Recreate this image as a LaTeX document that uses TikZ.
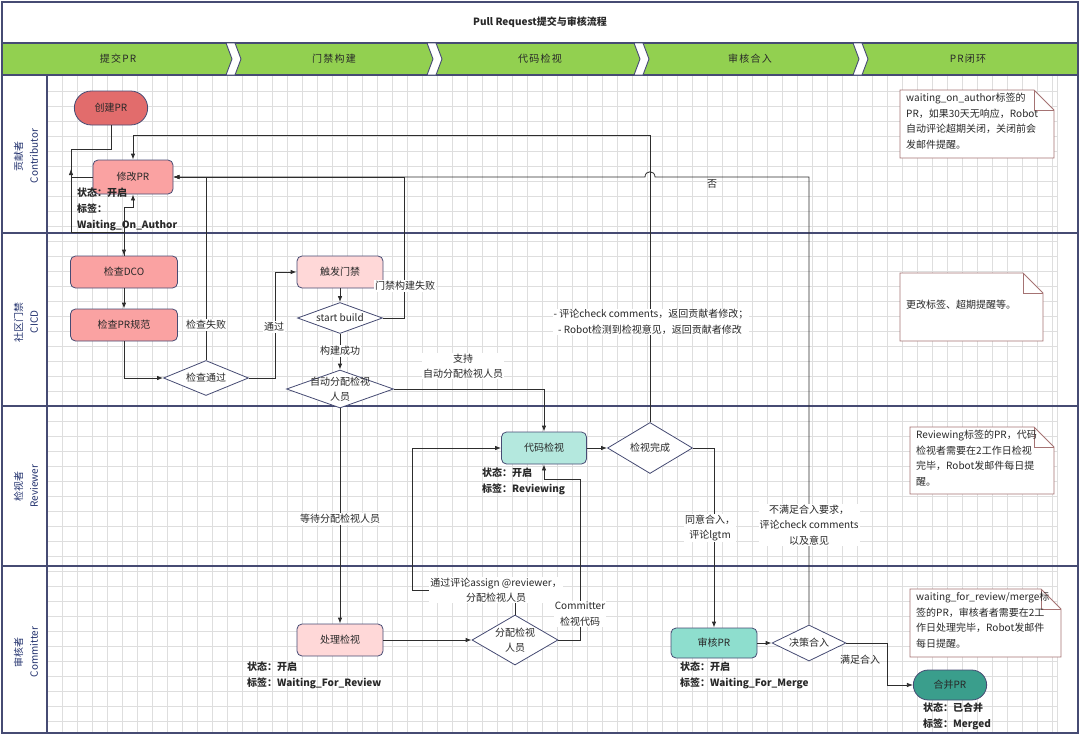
\documentclass[tikz,border=0pt]{standalone}
\usepackage{fontspec}
\setmainfont{Noto Sans CJK SC}
\usetikzlibrary{shapes.geometric,shapes.misc,arrows.meta,calc}
\definecolor{navy}{RGB}{70,75,115}
\definecolor{lineC}{RGB}{45,45,45}
\definecolor{gridc}{RGB}{222,222,222}
\definecolor{hdr}{RGB}{146,208,80}
\definecolor{laneT}{RGB}{35,50,110}
\definecolor{cCreate}{RGB}{226,108,108}
\definecolor{cPink}{RGB}{250,162,162}
\definecolor{cLight}{RGB}{255,216,216}
\definecolor{cTealL}{RGB}{180,232,222}
\definecolor{cTeal}{RGB}{142,222,206}
\definecolor{cTealD}{RGB}{58,158,140}
\definecolor{noteB}{RGB}{165,115,115}
\definecolor{txt}{RGB}{40,40,40}
\newcommand\mynote[4]{%
  \filldraw[fill=white, draw=noteB, line width=0.8pt] (#1,#2) -- (#3-20,#2) -- (#3,#2+20) -- (#3,#4) -- (#1,#4) -- cycle;
  \draw[draw=noteB, line width=0.8pt] (#3-20,#2) -- (#3-20,#2+20) -- (#3,#2+20);}
\begin{document}
\begin{tikzpicture}[x=1pt,y=-1pt,
  font=\fontsize{10}{15.5}\selectfont,
  every node/.style={text=txt},
  lanel/.style={draw=navy, line width=1.1pt},
  term/.style={rounded rectangle, draw=navy, line width=0.8pt, minimum width=80pt, minimum height=34pt},
  procbox/.style={rectangle, rounded corners=5pt, draw=navy, line width=0.8pt},
  dia/.style={diamond, draw=navy, line width=0.8pt, fill=white, inner sep=0pt},
  conn/.style={draw=lineC, line width=0.8pt},
  arr/.style={conn, -{Latex[length=6pt,width=4.5pt]}},
  lbl/.style={fill=white, inner sep=1pt, align=center},
  stat/.style={font=\bfseries\fontsize{10}{16}\selectfont, align=left, anchor=north west, inner sep=0pt},
  notetext/.style={align=left, anchor=north west, inner sep=0pt},
  lanetext/.style={rotate=90, align=center, text=laneT},
  phase/.style={font=\fontsize{10}{12}\selectfont\addfontfeature{LetterSpace=12}}
]
\useasboundingbox (0,0) rectangle (1080,736);
% grid
\foreach \x in {62,77,...,1052} \draw[gridc, line width=0.5pt] (\x,75) -- (\x,733);
\foreach \y in {91,106,...,721} \draw[gridc, line width=0.5pt] (47,\y) -- (1057,\y);
\draw[gridc, line width=0.5pt] (1057,75) -- (1057,733);
% header
\fill[hdr] (2,43) rectangle (1078,75);
\draw[lanel] (2,2) rectangle (1078,733);
\draw[lanel] (2,43) -- (1078,43);
\draw[lanel] (2,75) -- (1078,75);
\foreach \c in {226,427,634,853}
  \filldraw[fill=white, draw=navy, line width=0.9pt] (\c,43) -- (\c+9,43) -- (\c+15,59) -- (\c+9,75) -- (\c,75) -- (\c+6,59) -- cycle;
\node[font=\bfseries\fontsize{10}{12}\selectfont] (title) at (540,22) {Pull Request提交与审核流程};
\node[phase] (ph1) at (118,59) {提交PR};
\node[phase] (ph2) at (334,59) {门禁构建};
\node[phase] (ph3) at (540,59) {代码检视};
\node[phase] (ph4) at (750,59) {审核合入};
\node[phase] (ph5) at (968,59) {PR闭环};
% lanes
\draw[lanel] (2,233) -- (1078,233);
\draw[lanel] (2,406) -- (1078,406);
\draw[lanel] (2,566) -- (1078,566);
\draw[lanel] (47,75) -- (47,733);
\node[lanetext] (l1) at (26,156) {贡献者\\Contributor};
\node[lanetext] (l2) at (26,322) {社区门禁\\CICD};
\node[lanetext] (l3) at (26,486) {检视者\\Reviewer};
\node[lanetext] (l4) at (26,652) {审核者\\Committer};

% nodes
\node[term, fill=cCreate] (create) at (111,108) {创建PR};
\node[procbox, fill=cPink, minimum width=80pt, minimum height=34pt] (modify) at (133,177) {修改PR};
\node[procbox, fill=cPink, minimum width=107pt, minimum height=32pt] (dco) at (124,272) {检查DCO};
\node[procbox, fill=cPink, minimum width=107pt, minimum height=32pt] (spec) at (124,325) {检查PR规范};
\node[dia, minimum width=85pt, minimum height=35pt] (pass) at (206,378) {};
\node (pass-t) at (pass) {检查通过};
\node[procbox, fill=cLight, minimum width=86pt, minimum height=32pt] (trigger) at (340,272) {触发门禁};
\node[dia, minimum width=85pt, minimum height=31pt] (build) at (340,318) {};
\node (build-t) at (build) {start build};
\node[dia, minimum width=107pt, minimum height=38pt] (auto) at (340,389) {};
\node[align=center] (auto-t) at (auto) {自动分配检视\\人员};
\node[procbox, fill=cTealL, minimum width=85pt, minimum height=32pt] (review) at (544,448) {代码检视};
\node[dia, minimum width=85pt, minimum height=51pt] (done) at (650,448) {};
\node (done-t) at (done) {检视完成};
\node[procbox, fill=cLight, minimum width=86pt, minimum height=32pt] (handle) at (340,640) {处理检视};
\node[dia, minimum width=86pt, minimum height=50pt] (assign) at (515,640) {};
\node[align=center] (assign-t) at (assign) {分配检视\\人员};
\node[procbox, fill=cTeal, minimum width=86pt, minimum height=30pt] (audit) at (714,643) {审核PR};
\node[dia, minimum width=74pt, minimum height=36pt] (decide) at (809,643) {};
\node (decide-t) at (decide) {决策合入};
\node[term, fill=cTealD, minimum height=30pt] (merge) at (950,685) {合并PR};

% status texts
\node[stat] (s1) at (77,188) {状态：开启\\标签：\\Waiting\_On\_Author};
\node[stat] (s2) at (482,468) {状态：开启\\标签：Reviewing};
\node[stat] (s3) at (247,662) {状态：开启\\标签：Waiting\_For\_Review};
\node[stat] (s4) at (680,662) {状态：开启\\标签：Waiting\_For\_Merge};
\node[stat] (s5) at (923,703) {状态：已合并\\标签：Merged};

% notes
\mynote{900}{90}{1054}{158}
\node[notetext] (n1) at (906,93) {waiting\_on\_author标签的\\PR，如果30天无响应，Robot\\自动评论超期关闭，关闭前会\\发邮件提醒。};
\mynote{900}{273}{1043}{341}
\node[anchor=west, inner sep=0pt] (n2) at (906,305) {更改标签、超期提醒等。};
\mynote{910}{427}{1054}{494}
\node[notetext] (n3) at (916,430) {Reviewing标签的PR，代码\\检视者需要在2工作日检视\\完毕，Robot发邮件每日提\\醒。};
\mynote{910}{589}{1061}{657}
\node[notetext] (n4) at (916,592) {waiting\_for\_review/merge标\\签的PR，审核者者需要在2工\\作日处理完毕，Robot发邮件\\每日提醒。};

% connectors
\draw[arr] (create.south) -- (111,149) -- (71,149) -- (71,232) -| (dco.north);
\draw[arr] (dco.north) -- (124,207) -| (modify.south);
\draw[arr] (modify.west) -| (71,169);
\draw[arr] (dco.south) -- (spec.north);
\draw[arr] (spec.south) |- (pass.west);
\draw[arr] (pass.north) |- (modify.east);
\node[lbl] (lf1) at (206,325) {检查失败};
\draw[arr] (build.east) -- (404,318) |- (modify.east);
\node[lbl] (lf2) at (405,286) {门禁构建失败};
\draw[arr] (pass.east) -- (275,378) |- (trigger.west);
\node[lbl] (lp) at (274,327) {通过};
\draw[arr] (trigger.south) -- (build.north);
\draw[arr] (build.south) -- (auto.north);
\node[lbl] (lok) at (340,351) {构建成功};
\draw[arr] (auto.east) -| (review.north);
\node[lbl] (lsup) at (463,366) {支持\\自动分配检视人员};
\draw[arr] (auto.south) -- (handle.north);
\node[lbl] (lwait) at (340,519) {等待分配检视人员};
\draw[arr] (handle.east) -- (assign.west);
\draw[arr] (assign.north) -- (515,590) -- (412,590) |- (review.west);
\node[lbl] (lasg) at (496,590) {通过评论assign @reviewer，\\分配检视人员};
\draw[arr] (assign.east) -| (580,479) -| (review.south);
\node[lbl] (lcom) at (580,614) {Committer\\检视代码};
\draw[arr] (review.east) -- (done.west);
\draw[arr] (done.north) -- (650,135) -| (modify.north);
\node[lbl, align=left] (lret) at (651,322) {- 评论check comments，返回贡献者修改；\\\ \ - Robot检测到检视意见，返回贡献者修改};
\draw[arr] (done.east) -| (audit.north);
\node[lbl] (lagree) at (710,528) {同意合入，\\评论lgtm};
\draw[arr] (audit.east) -- (decide.west);
\draw[arr] (decide.north) -- (809,177) -- (655,177) .. controls (655,170) and (645,170) .. (645,177) -- (modify.east);
\node[inner sep=1pt] (lno) at (712,184) {否};
\node[lbl] (lrej) at (809,525) {不满足合入要求，\\评论check comments\\以及意见};
\draw[arr] (decide.east) -- (887,643) |- (merge.west);
\node[inner sep=1pt] (lmerge) at (860,660) {满足合入};
\end{tikzpicture}
\end{document}
